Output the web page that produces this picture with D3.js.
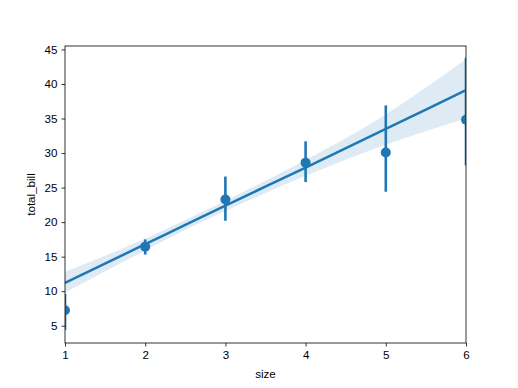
<!DOCTYPE html>
<html><head><meta charset="utf-8">
<script src="https://cdn.jsdelivr.net/npm/d3@7"></script>
<style>body{margin:0;background:#fff}svg{display:block}text{font-family:"Liberation Sans",Arial,sans-serif}</style>
</head><body>
<script>
const sizes = [1, 2, 3, 4, 5, 6];
const means = [7.24, 16.45, 23.28, 28.61, 30.07, 34.83];
const ciLow = [4.4, 15.3, 20.2, 25.8, 24.4, 28.2];
const ciHigh = [9.6, 17.5, 26.6, 31.7, 36.9, 43.8];
const fitX = [1, 2, 2.5, 3, 4, 5, 6];
const fitY = [11.2, 16.8, 19.6, 22.4, 27.9, 33.5, 39.1];
const bandLow = [9.8, 15.9, 18.9, 21.6, 26.7, 31.2, 35.0];
const bandHigh = [12.8, 17.6, 20.3, 23.1, 29.0, 35.6, 43.6];
const xTicks = [1, 2, 3, 4, 5, 6];
const yTicks = [5, 10, 15, 20, 25, 30, 35, 40, 45];

const W = 518, H = 388;
const m = {l: 65, r: 52, t: 46, b: 45};
const svg = d3.select("body").append("svg").attr("width", W).attr("height", H);
const x = d3.scaleLinear().domain([1, 6]).range([m.l, W - m.r]);
const y = d3.scaleLinear().domain([2.5, 45.5]).range([H - m.b, m.t]);
const C = "#1f77b4";

svg.append("clipPath").attr("id", "clip").append("rect")
  .attr("x", m.l).attr("y", m.t).attr("width", W - m.l - m.r).attr("height", H - m.t - m.b);
const g = svg.append("g").attr("clip-path", "url(#clip)");

const band = fitX.map((v, i) => ({x: v, lo: bandLow[i], hi: bandHigh[i]}));
g.append("path").datum(band)
  .attr("d", d3.area().curve(d3.curveMonotoneX).x(d => x(d.x)).y0(d => y(d.lo)).y1(d => y(d.hi)))
  .attr("fill", C).attr("fill-opacity", 0.15);
g.append("path").datum(fitX.map((v, i) => [v, fitY[i]]))
  .attr("d", d3.line().curve(d3.curveMonotoneX).x(d => x(d[0])).y(d => y(d[1])))
  .attr("fill", "none").attr("stroke", C).attr("stroke-width", 2.5);

sizes.forEach((s, i) => {
  g.append("line").attr("x1", x(s)).attr("x2", x(s)).attr("y1", y(ciLow[i])).attr("y2", y(ciHigh[i]))
    .attr("stroke", C).attr("stroke-width", 2.6);
  g.append("circle").attr("cx", x(s)).attr("cy", y(means[i])).attr("r", 5).attr("fill", C);
});

const xa = svg.append("g").attr("transform", `translate(0,${H - m.b})`)
  .call(d3.axisBottom(x).tickValues(xTicks).tickSize(3.5).tickPadding(4).tickFormat(d3.format("d")));
const ya = svg.append("g").attr("transform", `translate(${m.l},0)`)
  .call(d3.axisLeft(y).tickValues(yTicks).tickSize(3.5).tickPadding(4).tickFormat(d3.format("d")));
[xa, ya].forEach(a => {
  a.select(".domain").remove();
  a.selectAll("text").attr("font-size", 11.6).attr("fill", "#000").style("font-family", '"Liberation Sans",Arial,sans-serif');
  a.selectAll("line").attr("stroke", "#000").attr("stroke-width", 0.8);
});
svg.append("rect").attr("x", m.l).attr("y", m.t).attr("width", W - m.l - m.r).attr("height", H - m.t - m.b)
  .attr("fill", "none").attr("stroke", "#000").attr("stroke-width", 0.8);

svg.append("text").attr("x", (m.l + W - m.r) / 2).attr("y", 378).attr("text-anchor", "middle")
  .attr("font-size", 11.6).text("size");
svg.append("text").attr("transform", `translate(35,${(m.t + H - m.b) / 2}) rotate(-90)`)
  .attr("text-anchor", "middle").attr("font-size", 11.6).text("total_bill");
</script>
</body></html>
